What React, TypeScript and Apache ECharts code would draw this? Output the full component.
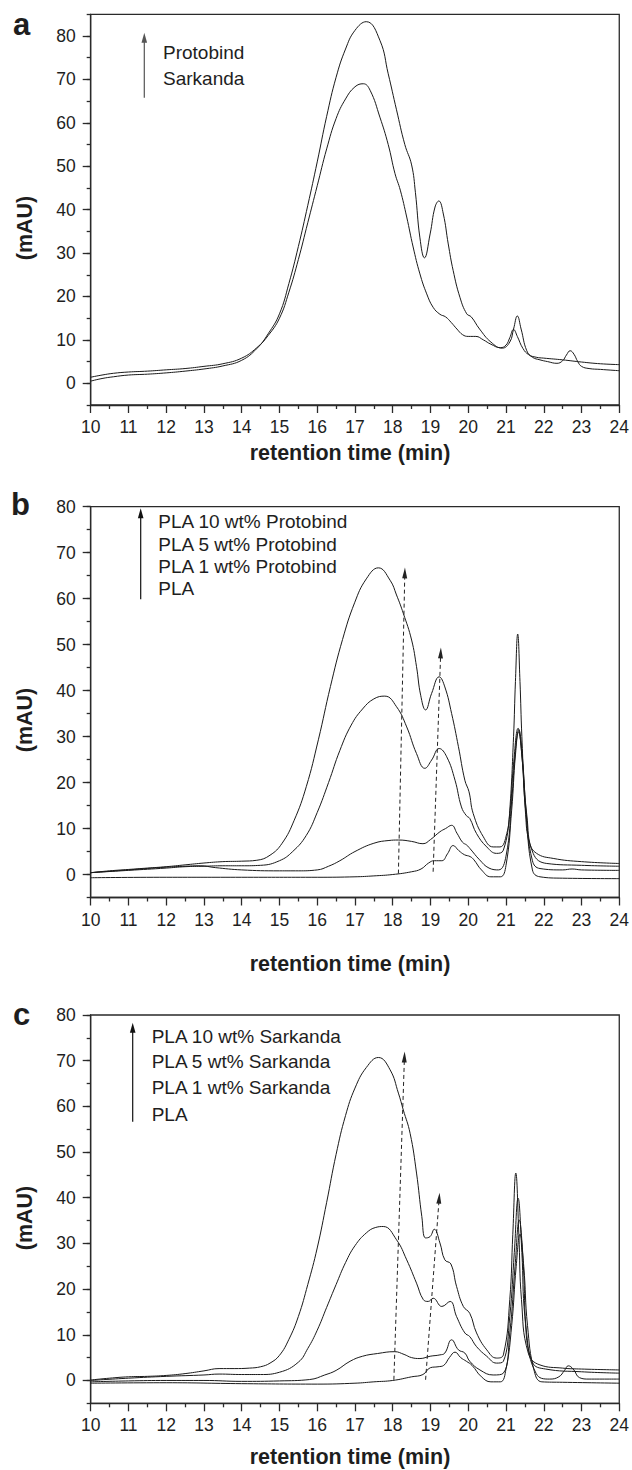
import React, { useEffect, useRef } from "react";
import * as echarts from "echarts";

type Pt = [number, number];

// ---------- data ----------
const xMin = 10;
const xMax = 24;
const yMin = -5;
const yMaxA = 85;
const yMaxBC = 80;
const yMajorTicks = [0, 10, 20, 30, 40, 50, 60, 70, 80];

const panelLetters = ["a", "b", "c"];
const yTitle = "(mAU)";
const xTitle = "retention time (min)";

const legendA = ["Protobind", "Sarkanda"];
const legendB = ["PLA 10 wt% Protobind", "PLA 5 wt% Protobind", "PLA 1 wt% Protobind", "PLA"];
const legendC = ["PLA 10 wt% Sarkanda", "PLA 5 wt% Sarkanda", "PLA 1 wt% Sarkanda", "PLA"];

const protobindA: Pt[] = [
  [10, 0.5], [10.3, 1.1], [10.6, 1.5], [11, 1.9], [11.5, 2.1], [12, 2.4], [12.5, 2.8], [13, 3.3],
  [13.5, 4.0], [14, 5.3], [14.4, 8.0], [14.7, 11.4], [15, 16],
  [15.25, 23], [15.5, 31.5], [15.75, 41], [16, 51], [16.25, 61.5], [16.5, 70.5], [16.75, 77], [17, 81.3],
  [17.3, 83.3], [17.66, 79], [17.88, 71.3], [18.1, 63], [18.32, 55],
  [18.5, 50.3], [18.6, 44], [18.72, 33.5], [18.84, 28.9], [18.99, 34.4], [19.12, 40.6],
  [19.22, 42], [19.34, 39], [19.47, 32.1], [19.6, 26], [19.78, 19.8], [19.96, 16], [20.08, 15.3],
  [20.3, 12.5], [20.6, 9.5], [20.9, 8.1], [21.1, 9.5], [21.2, 12.5], [21.3, 15.5], [21.4, 12.5],
  [21.55, 7.5], [21.7, 6.0], [21.9, 5.4], [22.1, 5.0], [22.35, 4.6], [22.5, 5.2], [22.6, 6.5],
  [22.7, 7.5], [22.8, 6.7], [22.9, 5.0], [23.0, 3.9], [23.2, 3.4], [23.5, 3.2], [24, 2.9],
];

const sarkandaA: Pt[] = [
  [10, 1.4], [10.3, 1.9], [10.6, 2.3], [11, 2.6], [11.5, 2.8], [12, 3.1], [12.5, 3.4], [13, 3.9],
  [13.5, 4.5], [14, 5.8], [14.4, 8.2], [14.7, 11.0], [15, 15],
  [15.25, 21], [15.5, 28.5], [15.75, 37], [16, 45.5], [16.25, 54], [16.5, 61], [16.75, 65.5], [17, 68.3],
  [17.22, 69], [17.4, 67.5], [17.66, 61.3], [17.88, 55], [18.06, 48.3], [18.2, 44.5], [18.37, 38.3],
  [18.54, 31.4], [18.72, 25.2], [18.9, 20.6], [19.07, 17.5], [19.25, 15.9], [19.4, 15.3], [19.55, 14],
  [19.7, 12.5], [19.85, 11.2], [20.0, 10.8], [20.2, 10.8], [20.4, 10], [20.6, 9], [20.85, 8.2],
  [21.0, 8.8], [21.1, 10.5], [21.2, 12.4], [21.3, 10.8], [21.45, 8], [21.6, 6.6], [21.8, 6.0],
  [22.0, 5.8], [22.5, 5.4], [23.0, 4.9], [23.5, 4.5], [24, 4.3],
];

const b10: Pt[] = [
  [10, 0.4], [10.5, 0.8], [11, 1.1], [11.5, 1.4], [12, 1.7], [12.5, 2.1], [13, 2.5], [13.5, 2.8],
  [14, 2.9], [14.4, 3.1], [14.75, 4.2], [15.07, 6.8], [15.39, 11.8], [15.71, 19.1], [16.03, 29.3],
  [16.35, 40.9], [16.67, 51.1], [16.99, 59.1], [17.3, 64.3], [17.62, 66.7],
  [17.93, 64], [18.1, 60.8], [18.28, 56.8], [18.5, 51], [18.63, 45.2], [18.74, 39], [18.87, 35.8],
  [19.03, 39.4], [19.23, 43], [19.38, 40.8], [19.56, 35], [19.74, 27.8], [19.91, 20.5], [20.02, 18],
  [20.13, 13.3], [20.4, 8.2], [20.66, 6], [20.84, 6], [21.02, 8.9], [21.1, 14], [21.2, 30],
  [21.25, 42], [21.31, 52.3], [21.37, 42], [21.42, 30], [21.52, 13], [21.62, 7], [21.81, 4.6],
  [22.25, 3.5], [23, 2.8], [24, 2.4],
];

const b5: Pt[] = [
  [10, 0.4], [11, 0.9], [12, 1.4], [12.5, 1.7], [13, 1.8], [13.5, 1.9], [14, 1.9], [14.5, 2.0],
  [15.0, 3.0], [15.35, 5.0], [15.71, 8.5], [16.0, 13.5], [16.3, 20], [16.6, 27], [16.9, 32.5],
  [17.2, 36], [17.5, 38.2], [17.79, 38.8], [18.1, 36.5], [18.37, 32.1], [18.63, 26.3], [18.85, 23.1],
  [19.03, 24.9], [19.23, 27.4], [19.43, 25.6], [19.65, 20.5], [19.82, 14.7], [19.95, 12.8],
  [20.04, 12.2], [20.22, 8.9], [20.49, 6.0], [20.75, 4.6], [20.93, 5.3], [21.1, 13.3], [21.2, 24],
  [21.32, 31.8], [21.44, 24], [21.55, 13], [21.72, 4.6], [22.08, 2.4], [23, 2.0], [24, 1.8],
];

const b1: Pt[] = [
  [10, 0.4], [11, 1.0], [12, 1.6], [12.5, 1.8], [12.9, 1.9], [13.3, 1.5], [14, 1.0], [15, 0.8],
  [15.5, 0.8], [16, 1.0], [16.3, 1.8], [16.6, 3.0], [17, 5.0], [17.5, 6.8], [17.9, 7.4], [18.15, 7.5],
  [18.5, 7.2], [18.8, 6.7], [19.0, 7.6], [19.25, 9.3], [19.4, 10], [19.56, 10.7], [19.7, 9.0],
  [19.85, 7.0], [19.96, 6.4], [20.05, 5.6], [20.3, 3.2], [20.55, 1.4], [20.8, 1.0], [21.0, 4],
  [21.15, 16], [21.25, 27], [21.33, 31], [21.42, 26], [21.52, 14], [21.7, 3], [21.9, 1.3], [22.5, 1.0],
  [22.75, 1.2], [23, 1.0], [24, 0.9],
];

const bPLA: Pt[] = [
  [10, -0.7], [12, -0.6], [14, -0.6], [16, -0.6], [17, -0.5], [17.5, -0.3], [18, 0], [18.5, 0.6],
  [18.75, 1.2], [18.95, 2.5], [19.1, 3.0], [19.3, 3.0], [19.45, 4.5], [19.6, 6.3], [19.75, 5.2],
  [19.9, 4.3], [20.05, 3.9], [20.15, 3.2], [20.35, 1.0], [20.6, -0.5], [20.85, -0.5], [21.0, 2],
  [21.15, 14], [21.25, 26], [21.34, 31.5], [21.43, 26], [21.53, 14], [21.7, 1], [21.9, -0.5],
  [22.5, -0.8], [24, -0.9],
];

const c10: Pt[] = [
  [10, 0.1], [10.5, 0.5], [11, 0.8], [11.5, 0.9], [12, 1.1], [12.5, 1.5], [13, 2.1], [13.4, 2.6],
  [13.8, 2.6], [14.2, 2.7], [14.5, 3.0], [14.75, 3.8], [15, 5.5], [15.25, 9], [15.5, 14], [15.75, 21],
  [16, 29], [16.25, 39], [16.5, 49.5], [16.75, 58], [17, 64], [17.3, 68.5], [17.62, 70.7], [17.93, 68],
  [18.15, 62.9], [18.28, 59.2], [18.46, 54.1], [18.63, 45.4], [18.77, 35.9], [18.87, 31.2],
  [18.99, 31.5], [19.1, 33.1], [19.25, 30.1], [19.38, 26.4], [19.54, 25.5], [19.69, 20.6],
  [19.87, 16.2], [20.04, 14.7], [20.22, 10.4], [20.49, 6.7], [20.75, 4.9], [20.93, 5.6], [21.1, 17.7],
  [21.18, 32], [21.26, 45.4], [21.34, 32], [21.41, 17.7], [21.59, 6.0], [21.9, 3.4], [22.5, 2.7],
  [23, 2.5], [24, 2.3],
];

const c5: Pt[] = [
  [10, 0], [11, 0.5], [12, 0.9], [13, 1.2], [13.4, 1.4], [14, 1.3], [14.5, 1.3], [15, 1.8],
  [15.5, 4.0], [15.75, 7], [16, 11], [16.25, 16], [16.5, 21], [16.75, 25.8], [17, 29.5], [17.3, 32.3],
  [17.55, 33.5], [17.75, 33.7], [18.1, 30.8], [18.37, 26.4], [18.63, 21.3], [18.81, 17.7],
  [18.94, 17.3], [19.07, 18], [19.3, 16.2], [19.52, 17.3], [19.69, 14], [19.91, 10.4], [20.04, 9.6],
  [20.22, 7.4], [20.49, 5.3], [20.75, 3.8], [20.93, 4.2], [21.1, 14], [21.22, 28], [21.32, 39.9],
  [21.42, 28], [21.5, 14], [21.7, 4], [22.05, 2.5], [23, 1.9], [24, 1.6],
];

const c1: Pt[] = [
  [10, -0.3], [11, -0.1], [12, 0], [13, 0], [14, -0.2], [15, -0.1], [15.8, 0.2], [16.2, 1.2],
  [16.5, 2.2], [16.87, 4.2], [17.2, 5.3], [17.6, 5.9], [18.05, 6.3], [18.3, 5.7], [18.5, 5],
  [18.72, 4.8], [18.99, 5.3], [19.25, 5.6], [19.38, 6.0], [19.56, 8.9], [19.74, 6.7], [19.91, 6.0],
  [20.04, 4.2], [20.31, 2.3], [20.66, 1.2], [20.93, 1.6], [21.1, 10.4], [21.24, 25], [21.35, 35.1],
  [21.46, 25], [21.55, 10], [21.8, 1.5], [22.15, 0.3], [22.4, 0.8], [22.55, 2.2], [22.65, 3.2],
  [22.78, 2.5], [22.95, 0.6], [23.2, 0.3], [24, 0.3],
];

const cPLA: Pt[] = [
  [10, -0.6], [12, -0.5], [14, -0.7], [16, -0.8], [17, -0.6], [17.5, -0.3], [18, 0], [18.5, 0.8],
  [18.8, 1.3], [19.0, 2.8], [19.2, 3.0], [19.35, 3.3], [19.5, 5], [19.65, 6.2], [19.8, 5.0],
  [19.95, 4.2], [20.1, 3.3], [20.35, 0.8], [20.6, -0.3], [20.85, -0.3], [21.0, 2.5], [21.15, 12],
  [21.27, 25], [21.37, 32], [21.47, 25], [21.57, 12], [21.75, 2], [21.95, -0.3], [22.5, -0.4],
  [24, -0.6],
];

// dashed trend arrows: [start, end] in data units
const arrowsB: [Pt, Pt][] = [
  [[18.15, 0.2], [18.32, 65.6]],
  [[19.07, 0.6], [19.27, 48.2]],
];
const arrowsC: [Pt, Pt][] = [
  [[18.03, 0.15], [18.31, 70.8]],
  [[18.87, 0.15], [19.23, 39.9]],
];

// ---------- styling ----------
const FONT = '"Liberation Sans", Arial, Helvetica, sans-serif';
const AX = "#2a2a2a";
const LINE = "#1a1a1a";
const TXT = "#1e1e1e";

const panels = [
  { top: 14.3, height: 390.7, ymax: yMaxA, series: [protobindA, sarkandaA], arrows: [] as [Pt, Pt][] },
  { top: 506.7, height: 390.8, ymax: yMaxBC, series: [b10, b5, b1, bPLA], arrows: arrowsB },
  { top: 1015, height: 388.3, ymax: yMaxBC, series: [c10, c5, c1, cPLA], arrows: arrowsC },
];

const GRID_LEFT = 90.7;
const GRID_WIDTH = 528.6;

function buildOption() {
  const grid: any[] = [];
  const xAxis: any[] = [];
  const yAxis: any[] = [];
  const series: any[] = [];

  panels.forEach((p, i) => {
    grid.push({
      left: GRID_LEFT,
      top: p.top,
      width: GRID_WIDTH,
      height: p.height,
      show: true,
      borderColor: AX,
      borderWidth: 1.3,
      backgroundColor: "transparent",
      containLabel: false,
    });
    xAxis.push({
      type: "value",
      gridIndex: i,
      min: xMin,
      max: xMax,
      interval: 1,
      axisLine: { show: true, onZero: false, lineStyle: { color: AX, width: 1.3 } },
      axisTick: { show: true, inside: false, length: 8, lineStyle: { color: AX, width: 1.3 } },
      minorTick: { show: true, splitNumber: 2, length: 4, lineStyle: { color: AX, width: 1.3 } },
      axisLabel: { show: true, fontSize: 17.5, color: TXT, fontFamily: FONT, margin: 13 },
      splitLine: { show: false },
      minorSplitLine: { show: false },
    });
    yAxis.push({
      type: "value",
      gridIndex: i,
      position: "left",
      min: yMin,
      max: p.ymax,
      interval: 5,
      axisLine: { show: true, onZero: false, lineStyle: { color: AX, width: 1.3 } },
      axisTick: { show: true, inside: false, length: 4, lineStyle: { color: AX, width: 1.3 } },
      axisLabel: { show: false },
      splitLine: { show: false },
    });
    yAxis.push({
      type: "value",
      gridIndex: i,
      position: "left",
      offset: 0,
      min: yMin,
      max: p.ymax,
      axisLine: { show: false },
      axisTick: {
        show: true,
        inside: false,
        length: 8,
        customValues: yMajorTicks,
        lineStyle: { color: AX, width: 1.3 },
      },
      axisLabel: {
        show: true,
        customValues: yMajorTicks,
        fontSize: 17.5,
        color: TXT,
        fontFamily: FONT,
        margin: 15,
      },
      splitLine: { show: false },
    });
    p.series.forEach((d, k) => {
      const s: any = {
        type: "line",
        xAxisIndex: i,
        yAxisIndex: 2 * i,
        data: d,
        showSymbol: false,
        symbol: "none",
        smooth: 0.45,
        silent: true,
        lineStyle: { color: LINE, width: 1 },
        z: 3,
      };
      if (k === 0 && p.arrows.length) {
        s.markLine = {
          silent: true,
          symbol: ["none", "triangle"],
          symbolSize: [5, 11],
          label: { show: false },
          emphasis: { disabled: true },
          lineStyle: { type: [4, 3], color: "#222", width: 1 },
          data: p.arrows.map(([a, b]) => [{ coord: a }, { coord: b }]),
        };
      }
      series.push(s);
    });
  });

  const txt = (text: string, x: number, y: number, extra: any = {}) => ({
    type: "text",
    x,
    y,
    silent: true,
    rotation: extra.rotation || 0,
    style: {
      text,
      fill: TXT,
      fontFamily: FONT,
      fontSize: extra.fontSize || 19,
      fontWeight: extra.fontWeight || "normal",
      align: extra.align || "left",
      verticalAlign: "middle",
    },
  });

  const vArrow = (x: number, yTip: number, yBottom: number, color: string) => [
    {
      type: "line",
      silent: true,
      shape: { x1: x, y1: yBottom, x2: x, y2: yTip + 6 },
      style: { stroke: color, lineWidth: 1.2 },
    },
    {
      type: "polygon",
      silent: true,
      shape: { points: [[x, yTip], [x - 2.8, yTip + 10], [x + 2.8, yTip + 10]] },
      style: { fill: color },
    },
  ];

  const graphic: any[] = [
    txt(panelLetters[0], 21.5, 24.3, { fontSize: 31, fontWeight: "bold", align: "center" }),
    txt(panelLetters[1], 20.5, 504.8, { fontSize: 31, fontWeight: "bold", align: "center" }),
    txt(panelLetters[2], 21.7, 1014.3, { fontSize: 31, fontWeight: "bold", align: "center" }),

    txt(yTitle, 25, 228, { fontSize: 21.5, fontWeight: "bold", align: "center", rotation: Math.PI / 2 }),
    txt(yTitle, 25, 720, { fontSize: 21.5, fontWeight: "bold", align: "center", rotation: Math.PI / 2 }),
    txt(yTitle, 25, 1218, { fontSize: 21.5, fontWeight: "bold", align: "center", rotation: Math.PI / 2 }),

    txt(xTitle, 350, 453, { fontSize: 21.5, fontWeight: "bold", align: "center" }),
    txt(xTitle, 350, 964, { fontSize: 21.5, fontWeight: "bold", align: "center" }),
    txt(xTitle, 350, 1457, { fontSize: 21.5, fontWeight: "bold", align: "center" }),

    txt(legendA[0], 163, 52.3),
    txt(legendA[1], 163, 78.5),
    ...[521.7, 544.2, 566.5, 588].map((y, k) => txt(legendB[k], 158.3, y)),
    ...[1036.7, 1061.7, 1087.7, 1114.2].map((y, k) => txt(legendC[k], 151.7, y)),

    ...vArrow(144.3, 32.7, 97.7, "#555"),
    ...vArrow(140.7, 508.3, 599.3, "#111"),
    ...vArrow(132.7, 1022.7, 1121.7, "#111"),
  ];

  return {
    animation: false,
    backgroundColor: "#ffffff",
    grid,
    xAxis,
    yAxis,
    series,
    graphic,
  };
}

export default function App() {
  const ref = useRef<HTMLDivElement>(null);
  useEffect(() => {
    if (!ref.current) return;
    const chart = echarts.init(ref.current, undefined, { renderer: "svg" });
    chart.setOption(buildOption() as any);
    return () => chart.dispose();
  }, []);
  return (
    <div
      ref={ref}
      style={{ position: "absolute", left: 0, top: 0, width: 632, height: 1470, background: "#fff" }}
    />
  );
}
